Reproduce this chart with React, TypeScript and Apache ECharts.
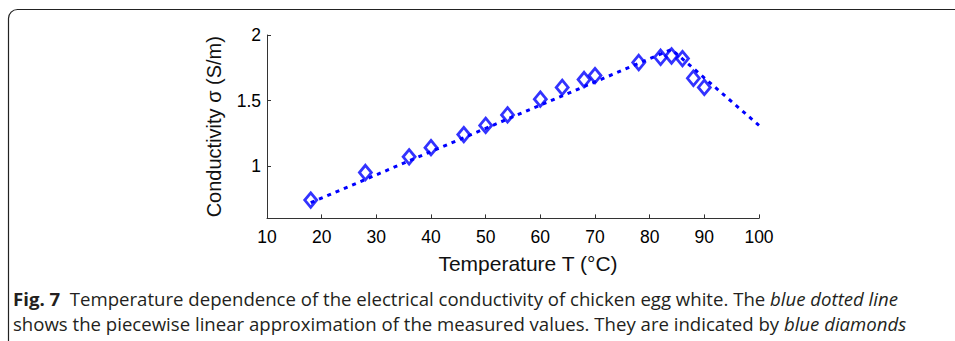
import React, { useEffect, useRef } from "react";
import * as echarts from "echarts";

// Measured conductivity (blue diamonds)
const measuredT: number[] = [18, 28, 36, 40, 46, 50, 54, 60, 64, 68, 70, 78, 82, 84, 86, 88, 90];
const measuredSigma: number[] = [0.74, 0.95, 1.07, 1.14, 1.24, 1.31, 1.39, 1.51, 1.6, 1.66, 1.69, 1.79, 1.83, 1.84, 1.82, 1.67, 1.6];

// Piecewise linear approximation (blue dotted line)
const fitT: number[] = [18, 84, 100];
const fitSigma: number[] = [0.72, 1.89, 1.31];

const xTicks: number[] = [10, 20, 30, 40, 50, 60, 70, 80, 90, 100];
const yTicks: number[] = [1, 1.5, 2];

const xTitle = "Temperature T (°C)";
const yTitle = "Conductivity σ (S/m)";
const captionLine1 = "{b|Fig. 7}{n|  Temperature dependence of the electrical conductivity of chicken egg white. The }{i|blue dotted line}";
const captionLine2 = "{n|shows the piecewise linear approximation of the measured values. They are indicated by }{i|blue diamonds}";

export default function App() {
  const ref = useRef<HTMLDivElement>(null);
  useEffect(() => {
    if (!ref.current) return;
    const chart = echarts.init(ref.current, undefined, { renderer: "svg" });
    const axisFont = "'Liberation Sans', Arial, Helvetica, sans-serif";
    const capFont = "'Open Sans', sans-serif";
    const capColor = "#231f20";
    const capSize = 18.6;
    chart.setOption({
      animation: false,
      backgroundColor: "#ffffff",
      grid: { left: 267, right: 196, top: 35, bottom: 122.6, containLabel: false },
      xAxis: {
        type: "value",
        min: 10,
        max: 100,
        interval: 10,
        name: xTitle,
        nameLocation: "middle",
        nameGap: 35,
        nameTextStyle: { fontFamily: axisFont, fontSize: 21, color: "#111", verticalAlign: "top", padding: [0, 0, 0, 30] },
        axisLine: { show: true, onZero: false, lineStyle: { color: "#333", width: 1 } },
        axisTick: { show: true, inside: true, length: 4, lineStyle: { color: "#333" } },
        axisLabel: { fontFamily: axisFont, fontSize: 17.5, color: "#000", margin: 10, formatter: (v: number) => (xTicks.includes(v) ? String(v) : "") },
        splitLine: { show: false },
      },
      yAxis: {
        type: "value",
        min: 0.6,
        max: 2,
        name: yTitle,
        nameLocation: "middle",
        nameGap: 43,
        nameTextStyle: { fontFamily: axisFont, fontSize: 20, color: "#111" },
        axisLine: { show: true, onZero: false, lineStyle: { color: "#333", width: 1 } },
        axisTick: { show: true, inside: true, length: 4, lineStyle: { color: "#333" }, customValues: yTicks },
        axisLabel: { fontFamily: axisFont, fontSize: 17.5, color: "#000", margin: 6, customValues: yTicks, formatter: (v: number) => String(v) },
        splitLine: { show: false },
      },
      series: [
        {
          type: "line",
          data: fitT.map((t, i) => [t, fitSigma[i]]),
          showSymbol: false,
          symbol: "none",
          lineStyle: { color: "#0000ff", width: 3, type: [4, 5], cap: "butt" },
          z: 2,
        },
        {
          type: "scatter",
          data: measuredT.map((t, i) => [t, measuredSigma[i]]),
          symbol: "diamond",
          symbolSize: [12, 14.5],
          itemStyle: { color: "rgba(0,0,0,0)", borderColor: "#0000ff", borderWidth: 2.8 },
          z: 3,
        },
      ],
      graphic: [
        {
          type: "rect",
          shape: { x: 8.5, y: 9.5, width: 1200, height: 600, r: [9, 0, 0, 0] },
          style: { fill: "none", stroke: "#222", lineWidth: 1.2 },
          silent: true,
        },
        {
          type: "text",
          x: 13,
          y: 298,
          style: {
            text: captionLine1,
            verticalAlign: "middle",
            fill: capColor,
            font: `${capSize}px ${capFont}`,
            rich: {
              b: { fontWeight: "bold", fontSize: capSize, fontFamily: capFont, fill: capColor },
              n: { fontSize: capSize, fontFamily: capFont, fill: capColor },
              i: { fontStyle: "italic", fontSize: capSize, fontFamily: capFont, fill: capColor },
            },
          },
        },
        {
          type: "text",
          x: 13,
          y: 323,
          style: {
            text: captionLine2,
            verticalAlign: "middle",
            fill: capColor,
            font: `${capSize}px ${capFont}`,
            rich: {
              n: { fontSize: capSize, fontFamily: capFont, fill: capColor },
              i: { fontStyle: "italic", fontSize: capSize, fontFamily: capFont, fill: capColor },
            },
          },
        },
      ],
    });
    return () => chart.dispose();
  }, []);
  return <div ref={ref} style={{ position: "fixed", left: 0, top: 0, width: 955, height: 341 }} />;
}
